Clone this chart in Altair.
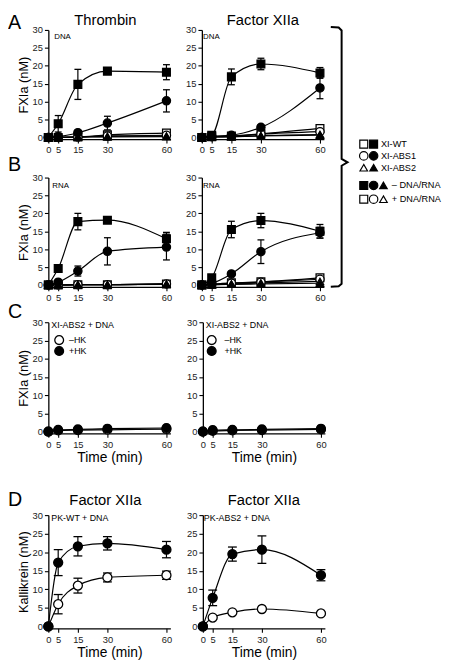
import altair as alt
import pandas as pd

FONT = "Liberation Sans"

times = [0, 5, 15, 30, 60]
y_ticks = [0, 5, 10, 15, 20, 25, 30]
no_err = [0, 0, 0, 0, 0]

# ---------- Panel A (DNA) : Thrombin ----------
a_thr_wt_f = [0, 3.8, 14.8, 18.5, 18.2]
a_thr_wt_f_err = [0, 2.3, 4.2, 0.7, 2.1]
a_thr_abs1_f = [0, 0.2, 1.3, 4.0, 10.2]
a_thr_abs1_f_err = [0, 0, 0.4, 1.9, 3.1]
a_thr_abs2_f = [0, 0, 0.1, 0.1, 0.2]
a_thr_wt_o = [0, 0, 0.1, 0.7, 1.2]
a_thr_wt_o_err = [0, 0, 0, 0.5, 0.4]
a_thr_abs1_o = [0, 0, 0.1, 0.4, 0.6]
a_thr_abs2_o = [0, 0, 0.1, 0.3, 0.4]

# ---------- Panel A (DNA) : Factor XIIa ----------
a_f12_wt_f = [0, 0.6, 16.9, 20.5, 18.0]
a_f12_wt_f_err = [0, 0.3, 2.2, 1.6, 1.5]
a_f12_abs1_f = [0, 0.3, 0.6, 2.8, 13.8]
a_f12_abs1_f_err = [0, 0, 0.3, 0.6, 3.0]
a_f12_abs2_f = [0, 0.1, 0.2, 0.4, 0.6]
a_f12_wt_o = [0, 0.2, 0.4, 1.0, 2.5]
a_f12_wt_o_err = [0, 0, 0.2, 0.4, 0.6]
a_f12_abs1_o = [0, 0.2, 0.3, 0.9, 1.6]
a_f12_abs2_o = [0, 0.1, 0.2, 0.5, 0.8]

# ---------- Panel B (RNA) : Thrombin ----------
b_thr_wt_f = [0, 4.6, 17.7, 18.1, 12.9]
b_thr_wt_f_err = [0, 0.4, 2.3, 0.5, 1.8]
b_thr_abs1_f = [0, 0.8, 3.9, 9.4, 10.6]
b_thr_abs1_f_err = [0, 0.3, 1.4, 3.8, 3.6]
b_thr_abs2_f = [0, 0, 0.1, 0.1, 0.2]
b_thr_wt_o = [0, 0, 0.1, 0.1, 0.3]
b_thr_abs1_o = [0, 0, 0.1, 0.1, 0.3]
b_thr_abs2_o = [0, 0, 0.1, 0.1, 0.3]

# ---------- Panel B (RNA) : Factor XIIa ----------
b_f12_wt_f = [0, 2.0, 15.5, 18.0, 15.0]
b_f12_wt_f_err = [0, 0.4, 2.3, 2.0, 1.9]
b_f12_abs1_f = [0, 0.5, 3.1, 9.3, 14.6]
b_f12_abs1_f_err = [0, 0.2, 0.4, 3.3, 1.5]
b_f12_abs2_f = [0, 0.1, 0.2, 0.3, 0.5]
b_f12_wt_o = [0, 0.2, 0.6, 0.9, 2.0]
b_f12_wt_o_err = [0, 0, 0.2, 0.4, 0.7]
b_f12_abs1_o = [0, 0.2, 0.5, 0.8, 1.6]
b_f12_abs2_o = [0, 0.1, 0.3, 0.6, 1.0]

# ---------- Panel C : XI-ABS2 + DNA ----------
c_thr_minus_hk = [0, 0.3, 0.4, 0.5, 0.7]
c_thr_plus_hk = [0, 0.5, 0.6, 0.8, 1.0]
c_f12_minus_hk = [0, 0.2, 0.3, 0.4, 0.6]
c_f12_plus_hk = [0, 0.4, 0.5, 0.6, 0.8]

# ---------- Panel D : Kallikrein ----------
d_wt_f = [0, 17.2, 21.6, 22.4, 20.7]
d_wt_f_err = [0, 3.5, 2.6, 1.8, 2.2]
d_wt_o = [0, 6.0, 11.0, 13.2, 13.8]
d_wt_o_err = [0, 2.6, 2.0, 1.2, 1.1]
d_abs2_f = [0, 7.7, 19.5, 20.7, 13.8]
d_abs2_f_err = [0, 2.1, 1.9, 3.7, 1.5]
d_abs2_o = [0, 2.4, 3.8, 4.7, 3.5]
d_abs2_o_err = [0, 0.4, 0.3, 0.3, 0.3]

legend_rows = [
    (["white", "black"], ["square", "square"], "XI-WT"),
    (["white", "black"], ["circle", "circle"], "XI-ABS1"),
    (["white", "black"], ["triangle-up", "triangle-up"], "XI-ABS2"),
    (["black", "black", "black"], ["square", "circle", "triangle-up"], "– DNA/RNA"),
    (["white", "white", "white"], ["square", "circle", "triangle-up"], "+ DNA/RNA"),
]

# ---------------- styling / layout ----------------
SHAPE_SIZE = {"square": 62, "circle": 70, "triangle-up": 56}
X_DOMAIN = [0, 62]
Y_DOMAIN = [-0.5, 30]
PANEL_W = 124


def build_df(series_list, msize):
    rows = []
    for i, (vals, errs, shape, filled) in enumerate(series_list):
        for t, v, e in zip(times, vals, errs):
            rows.append({"t": t, "v": v, "lo": v - e, "hi": v + e, "err": e,
                         "sid": i, "shape": shape,
                         "fill": "black" if filled else "white",
                         "sz": SHAPE_SIZE[shape] * msize})
    return pd.DataFrame(rows)


def enc_x(xtitle):
    return alt.X("t:Q", scale=alt.Scale(domain=X_DOMAIN, nice=False, zero=False),
                 title=xtitle,
                 axis=alt.Axis(values=times, labelFlush=False, labelOverlap=False,
                               titleFontSize=14, titlePadding=2, titleFontWeight=400,
                               titleFont=FONT, labelFont=FONT))


def enc_y(field, ytitle):
    return alt.Y(field, scale=alt.Scale(domain=Y_DOMAIN, nice=False, zero=False),
                 title=ytitle,
                 axis=alt.Axis(values=y_ticks, labelFlush=False, labelOverlap=False,
                               titleFontSize=13, titlePadding=2, titleFontWeight=400,
                               titleFont=FONT, labelFont=FONT))


def make_panel(series_list, height, notes=(), syms=(), letter=None, letter_dy=-5,
               title=None, title_dx=0, title_dy=-5, ytitle=None, xtitle=None,
               msize=1.0, cap=7):
    df = build_df(series_list, msize)
    dfe = df[df["err"] > 0]
    X = enc_x(xtitle)
    layers = [
        alt.Chart(df).mark_line(color="black", strokeWidth=1.2, interpolate="monotone")
        .encode(x=X, y=enc_y("v:Q", ytitle), detail="sid:N")
    ]
    if len(dfe):
        layers.append(alt.Chart(dfe).mark_rule(color="black", strokeWidth=1.2)
                      .encode(x=X, y=enc_y("lo:Q", ytitle), y2="hi:Q"))
        for f in ("lo:Q", "hi:Q"):
            layers.append(alt.Chart(dfe).mark_tick(color="black", thickness=1.3, size=cap,
                                                   orient="horizontal", opacity=1)
                          .encode(x=X, y=enc_y(f, ytitle)))
    layers.append(
        alt.Chart(df).mark_point(filled=True, stroke="black", strokeWidth=1.3, opacity=1)
        .encode(x=X, y=enc_y("v:Q", ytitle),
                shape=alt.Shape("shape:N", scale=None),
                fill=alt.Fill("fill:N", scale=None),
                size=alt.Size("sz:Q", scale=None))
    )
    if syms:
        sdf = pd.DataFrame(list(syms))
        layers.append(
            alt.Chart(sdf).mark_point(filled=True, stroke="black", strokeWidth=1.3, opacity=1)
            .encode(x=X, y=enc_y("v:Q", ytitle),
                    shape=alt.Shape("shape:N", scale=None),
                    fill=alt.Fill("fill:N", scale=None),
                    size=alt.value(80))
        )
    if notes:
        ndf = pd.DataFrame(list(notes))
        layers.append(
            alt.Chart(ndf).mark_text(align="left", baseline="middle", font=FONT, color="black")
            .encode(x=X, y=enc_y("v:Q", ytitle), text="text:N",
                    size=alt.Size("fs:Q", scale=None))
        )
    if letter:
        layers.append(
            alt.Chart(pd.DataFrame({"letter": [letter]}))
            .mark_text(fontSize=20, align="left", baseline="alphabetic", font=FONT,
                       color="black")
            .encode(x=alt.value(-41), y=alt.value(letter_dy), text="letter:N")
        )
    if title:
        layers.append(
            alt.Chart(pd.DataFrame({"title": [title]}))
            .mark_text(fontSize=15, align="center", baseline="alphabetic", font=FONT,
                       color="black")
            .encode(x=alt.value(PANEL_W / 2 + title_dx), y=alt.value(title_dy),
                    text="title:N")
        )
    return alt.layer(*layers).properties(width=PANEL_W, height=height)


def six(wf, wfe, a1f, a1fe, a2f, wo, woe, a1o, a2o):
    return [
        (wo, woe, "square", False),
        (a1o, no_err, "circle", False),
        (a2o, no_err, "triangle-up", False),
        (a2f, no_err, "triangle-up", True),
        (a1f, a1fe, "circle", True),
        (wf, wfe, "square", True),
    ]


A_left = make_panel(
    six(a_thr_wt_f, a_thr_wt_f_err, a_thr_abs1_f, a_thr_abs1_f_err, a_thr_abs2_f,
        a_thr_wt_o, a_thr_wt_o_err, a_thr_abs1_o, a_thr_abs2_o),
    111, notes=[{"t": 3, "v": 28.1, "text": "DNA", "fs": 8}],
    letter="A", letter_dy=-1, title="Thrombin", title_dx=-4, title_dy=-5,
    ytitle="FXIa (nM)")
A_right = make_panel(
    six(a_f12_wt_f, a_f12_wt_f_err, a_f12_abs1_f, a_f12_abs1_f_err, a_f12_abs2_f,
        a_f12_wt_o, a_f12_wt_o_err, a_f12_abs1_o, a_f12_abs2_o),
    111, notes=[{"t": 0.6, "v": 28.1, "text": "DNA", "fs": 8}],
    title="Factor XIIa", title_dy=-5)

B_left = make_panel(
    six(b_thr_wt_f, b_thr_wt_f_err, b_thr_abs1_f, b_thr_abs1_f_err, b_thr_abs2_f,
        b_thr_wt_o, no_err, b_thr_abs1_o, b_thr_abs2_o),
    111, notes=[{"t": 2, "v": 27.5, "text": "RNA", "fs": 8}],
    letter="B", letter_dy=-7, ytitle="FXIa (nM)")
B_right = make_panel(
    six(b_f12_wt_f, b_f12_wt_f_err, b_f12_abs1_f, b_f12_abs1_f_err, b_f12_abs2_f,
        b_f12_wt_o, b_f12_wt_o_err, b_f12_abs1_o, b_f12_abs2_o),
    111, notes=[{"t": 0.6, "v": 27.5, "text": "RNA", "fs": 8}])


def c_panel(minus, plus, sym_t, txt_t, **kw):
    return make_panel(
        [(minus, no_err, "circle", False), (plus, no_err, "circle", True)],
        113, msize=1.15,
        notes=[{"t": 1.5, "v": 29.2, "text": "XI-ABS2 + DNA", "fs": 9},
               {"t": txt_t, "v": 25.1, "text": "–HK", "fs": 9},
               {"t": txt_t, "v": 22.1, "text": "+HK", "fs": 9}],
        syms=[{"t": sym_t, "v": 25.1, "shape": "circle", "fill": "white"},
              {"t": sym_t, "v": 22.1, "shape": "circle", "fill": "black"}],
        xtitle="Time (min)", **kw)


C_left = c_panel(c_thr_minus_hk, c_thr_plus_hk, 5.5, 10.5,
                 letter="C", letter_dy=-4, ytitle="FXIa (nM)")
C_right = c_panel(c_f12_minus_hk, c_f12_plus_hk, 4.5, 11.0)

D_left = make_panel(
    [(d_wt_o, d_wt_o_err, "circle", False), (d_wt_f, d_wt_f_err, "circle", True)],
    115, msize=1.2, cap=9,
    notes=[{"t": 1.5, "v": 29.2, "text": "PK-WT + DNA", "fs": 9}],
    letter="D", letter_dy=-9, title="Factor XIIa", title_dx=-4, title_dy=-10,
    ytitle="Kallikrein (nM)", xtitle="Time (min)")
D_right = make_panel(
    [(d_abs2_o, d_abs2_o_err, "circle", False), (d_abs2_f, d_abs2_f_err, "circle", True)],
    115, msize=1.2, cap=9,
    notes=[{"t": 0.5, "v": 29.2, "text": "PK-ABS2 + DNA", "fs": 9}],
    title="Factor XIIa", title_dy=-10, xtitle="Time (min)")

# ---------------- legend + bracket panel (page-pixel coordinates) ----------------
LEG_X0, LEG_X1, LEG_Y0, LEG_Y1 = 328, 444, 29, 293
row_y = [145, 157, 169, 187, 201]
sym_x = [364.5, 374.5, 384.5]
text_x = [382, 382, 382, 393, 393]
sym_rows, txt_rows = [], []
for (fills, shapes, label), yy, tx in zip(legend_rows, row_y, text_x):
    for k, (f, s) in enumerate(zip(fills, shapes)):
        sym_rows.append({"px": sym_x[k], "py": yy, "shape": s, "fill": f,
                         "sz": SHAPE_SIZE[s] * 1.05})
    txt_rows.append({"px": tx, "py": yy, "text": label})
bracket_pts = [(331, 26), (339, 26.5), (342, 29.5), (342, 160), (348, 163.5), (342, 167),
               (342, 287), (339, 289.5), (331, 290)]
br_df = pd.DataFrame([{"px": x, "py": y, "o": i} for i, (x, y) in enumerate(bracket_pts)])

LX = alt.X("px:Q", scale=alt.Scale(domain=[LEG_X0, LEG_X1], nice=False, zero=False), axis=None)
LY = alt.Y("py:Q", scale=alt.Scale(domain=[LEG_Y0, LEG_Y1], nice=False, zero=False, reverse=True),
           axis=None)
legend = alt.layer(
    alt.Chart(br_df).mark_line(color="black", strokeWidth=2).encode(x=LX, y=LY, order="o:Q"),
    alt.Chart(pd.DataFrame(sym_rows)).mark_point(filled=True, stroke="black", strokeWidth=1.2,
                                                 opacity=1)
    .encode(x=LX, y=LY, shape=alt.Shape("shape:N", scale=None),
            fill=alt.Fill("fill:N", scale=None), size=alt.Size("sz:Q", scale=None)),
    alt.Chart(pd.DataFrame(txt_rows)).mark_text(align="left", baseline="middle", font=FONT,
                                                fontSize=9.3, color="black")
    .encode(x=LX, y=LY, text="text:N"),
).properties(width=LEG_X1 - LEG_X0, height=LEG_Y1 - LEG_Y0)

rowA = alt.hconcat(A_left, A_right, spacing=12)
rowB = alt.hconcat(B_left, B_right, spacing=12)
AB = alt.vconcat(rowA, rowB, spacing=0)
top = alt.hconcat(AB, legend, spacing=0)
rowC = alt.hconcat(C_left, C_right, spacing=12)
rowD = alt.hconcat(D_left, D_right, spacing=12)
upper = alt.vconcat(top, rowC, spacing=0)

chart = (
    alt.vconcat(upper, rowD, spacing=26)
    .properties(padding=0, background="white")
    .configure(font=FONT)
    .configure_view(stroke=None)
    .configure_axis(domainColor="black", tickColor="black", labelColor="#222",
                    titleColor="black", labelFont=FONT, titleFont=FONT,
                    titleFontWeight=400, grid=False, domainWidth=1.3, tickWidth=1.1,
                    tickSize=4, labelFontSize=9.5, labelPadding=2)
)

chart.save("out.html", embed_options={"renderer": "svg", "actions": False})
